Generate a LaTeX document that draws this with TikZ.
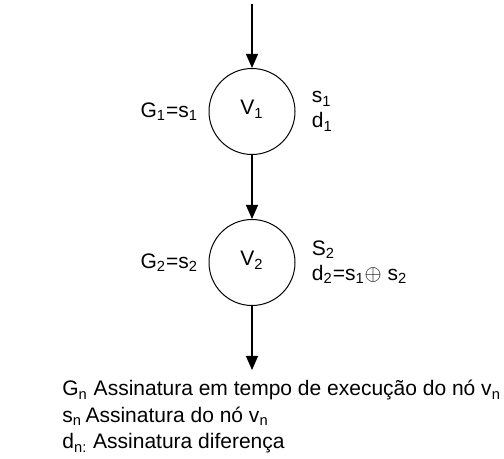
\documentclass[tikz,border=0pt]{standalone}
\usepackage{fontspec}
\setmainfont{Liberation Sans}
\usetikzlibrary{positioning,arrows.meta}

\begin{document}
\begin{tikzpicture}[
x=0.5pt, y=-0.5pt,
font=\fontsize{10.5}{12.5}\selectfont,
vertex/.style={draw, circle, line width=0.5pt, minimum size=43pt, inner sep=0pt},
info/.style={align=left, inner sep=0pt},
arrow/.style={-{Triangle[length=7pt,width=6pt]}, line width=0.7pt},
node distance=32pt
]
\useasboundingbox (0,0) rectangle (504,459);
\coordinate (in) at (252,4);
\node[vertex, below=of in] (v1) {\raisebox{4pt}{V\textsubscript{1}}};
\node[vertex, below=of v1] (v2) {\raisebox{4pt}{V\textsubscript{2}}};
\coordinate[below=of v2] (out);
\draw[arrow] (in) -- (v1);
\draw[arrow] (v1) -- (v2);
\draw[arrow] (v2) -- (out);
% signatures beside each vertex
\node[info, left=5pt of v1] (g1) {G\textsubscript{1}=s\textsubscript{1}};
\node[info, right=8pt of v1] (sd1) {s\textsubscript{1}\\d\textsubscript{1}};
\node[info, left=5pt of v2] (g2) {G\textsubscript{2}=s\textsubscript{2}};
\node[info, right=8pt of v2] (sd2) {S\textsubscript{2}\\d\textsubscript{2}=s\textsubscript{1}$\oplus$ s\textsubscript{2}};
% legend
\node[info, anchor=north west, font=\fontsize{10.5}{13.25}\selectfont] (leg) at (62,380)
  {G\textsubscript{n} Assinatura em tempo de execução do nó v\textsubscript{n}\\
   s\textsubscript{n}\,Assinatura do nó v\textsubscript{n}\\
   d\textsubscript{n:} Assinatura diferença};
\end{tikzpicture}
\end{document}
